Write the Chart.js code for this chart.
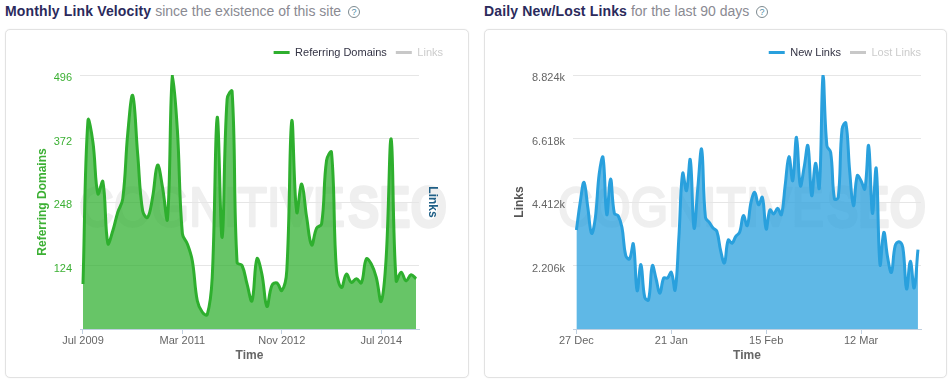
<!DOCTYPE html>
<html lang="en">
<head>
<meta charset="UTF-8">
<title>Link Velocity</title>
<script src="https://cdn.jsdelivr.net/npm/chart.js"></script>
<style>
    html, body { margin: 0; padding: 0; background: #fff; overflow: hidden; }
    body { width: 950px; height: 386px; position: relative; font-family: "Liberation Sans", Arial, sans-serif; }
    .heading { position: absolute; top: 3px; font-size: 14px; line-height: 17px; color: #8a8a92; white-space: nowrap; }
    .heading b { color: #2b2a5c; letter-spacing: 0.15px; }
    .help { display: inline-block; width: 10px; height: 10px; border: 1px solid #7d8a90; border-radius: 50%; font-size: 9px; line-height: 10px; text-align: center; color: #4f8da5; margin-left: 3px; vertical-align: 1px; }
    .card { position: absolute; top: 29px; height: 347px; border: 1px solid #e2e2e2; border-radius: 5px; box-shadow: 0 0 1px #ddd; }
    canvas { position: absolute; top: 0; }
</style>
</head>
<body>
    <div class="heading" style="left:5px"><b>Monthly Link Velocity</b> since the existence of this site <span class="help">?</span></div>
    <div class="heading" style="left:484px"><b>Daily New/Lost Links</b> for the last 90 days <span class="help">?</span></div>
    <div class="card" style="left:5px;width:462px"></div>
    <div class="card" style="left:484px;width:461px"></div>
    <div style="position:absolute;left:0;top:0;width:475px;height:386px"><canvas id="velocityChart"></canvas></div>
    <div style="position:absolute;left:475px;top:0;width:475px;height:386px"><canvas id="dailyChart"></canvas></div>

<script>
    // monthly chart
    var months = [
        'Jul 2009','Aug 2009','Sep 2009','Oct 2009','Nov 2009','Dec 2009',
        'Jan 2010','Feb 2010','Mar 2010','Apr 2010','May 2010','Jun 2010','Jul 2010','Aug 2010','Sep 2010','Oct 2010','Nov 2010','Dec 2010',
        'Jan 2011','Feb 2011','Mar 2011','Apr 2011','May 2011','Jun 2011','Jul 2011','Aug 2011','Sep 2011','Oct 2011','Nov 2011','Dec 2011',
        'Jan 2012','Feb 2012','Mar 2012','Apr 2012','May 2012','Jun 2012','Jul 2012','Aug 2012','Sep 2012','Oct 2012','Nov 2012','Dec 2012',
        'Jan 2013','Feb 2013','Mar 2013','Apr 2013','May 2013','Jun 2013','Jul 2013','Aug 2013','Sep 2013','Oct 2013','Nov 2013','Dec 2013',
        'Jan 2014','Feb 2014','Mar 2014','Apr 2014','May 2014','Jun 2014','Jul 2014','Aug 2014','Sep 2014','Oct 2014','Nov 2014','Dec 2014',
        'Jan 2015','Feb 2015'
    ];
    var referringDomains = [
        88,407,365,264,288,167,192,228,254,381,456,342,231,218,257,320,277,215,496,387,
        186,166,133,55,33,28,101,413,179,449,464,130,124,88,55,137,107,44,85,90,
        75,114,406,228,283,218,164,197,205,329,345,114,81,107,91,98,90,137,127,101,
        54,140,371,94,111,94,106,98
    ];
    var monthTicks = [0, 20, 40, 60];
    var domainTicks = [124, 248, 372, 496];

    // daily chart
    var days = [
        '27 Dec','28 Dec','29 Dec','30 Dec','31 Dec',
        '1 Jan','2 Jan','3 Jan','4 Jan','5 Jan','6 Jan','7 Jan','8 Jan','9 Jan','10 Jan','11 Jan','12 Jan','13 Jan','14 Jan','15 Jan','16 Jan','17 Jan','18 Jan','19 Jan','20 Jan','21 Jan','22 Jan','23 Jan','24 Jan','25 Jan','26 Jan','27 Jan','28 Jan','29 Jan','30 Jan','31 Jan',
        '1 Feb','2 Feb','3 Feb','4 Feb','5 Feb','6 Feb','7 Feb','8 Feb','9 Feb','10 Feb','11 Feb','12 Feb','13 Feb','14 Feb','15 Feb','16 Feb','17 Feb','18 Feb','19 Feb','20 Feb','21 Feb','22 Feb','23 Feb','24 Feb','25 Feb','26 Feb','27 Feb','28 Feb',
        '1 Mar','2 Mar','3 Mar','4 Mar','5 Mar','6 Mar','7 Mar','8 Mar','9 Mar','10 Mar','11 Mar','12 Mar','13 Mar','14 Mar','15 Mar','16 Mar','17 Mar','18 Mar','19 Mar','20 Mar','21 Mar','22 Mar','23 Mar','24 Mar','25 Mar','26 Mar','27 Mar'
    ];
    var newLinks = [
        3439,4400,5095,4227,3323,3879,5385,5964,3972,5211,4018,3937,3532,2548,2432,2953,1332,2235,1100,1007,
        2200,1737,1239,1772,1772,1969,1355,3185,5408,4806,5883,3509,4922,6242,3879,3706,3509,3393,2721,2293,
        3092,2976,3219,3358,3937,3590,4400,4748,4319,4574,3474,4134,3995,4192,3972,4979,5987,5153,6659,4979,
        5616,6369,4632,5755,4898,8824,6369,6137,4516,4574,6948,7156,5500,4285,5327,5153,4864,6369,4018,5582,
        2235,3358,2490,1969,2895,3034,2837,1390,2351,1424,2756
    ];
    var dayTicks = [0, 25, 50, 75];
    var linkTicks = [2206, 4412, 6618, 8824];

    function toPoints(values) {
        return values.map(function (v, i) { return { x: i, y: v }; });
    }

    // big grey logo behind everything else on the canvas
    var watermark = {
        id: 'watermark',
        beforeDraw: function (chart, args, opts) {
            var ctx = chart.ctx;
            ctx.save();
            ctx.fillStyle = '#efefef';
            ctx.strokeStyle = '#efefef';
            ctx.lineWidth = 2.5;
            ctx.lineJoin = 'round';
            ctx.textBaseline = 'alphabetic';
            ctx.textAlign = 'left';
            ctx.font = '56px "Liberation Sans"';
            ctx.fillText('COGNITIVE', opts.x + 1, 226, 266);
            ctx.strokeText('COGNITIVE', opts.x + 1, 226, 266);
            ctx.font = 'bold 57px "Liberation Sans"';
            ctx.fillText('SEO', opts.x + 270, 227, 99);
            ctx.strokeText('SEO', opts.x + 270, 227, 99);
            ctx.restore();
        }
    };

    // legend needs some air below it
    var legendGap = {
        id: 'legendGap',
        beforeInit: function (chart) {
            var fit = chart.legend.fit;
            chart.legend.fit = function () {
                fit.call(this);
                this.height += 7;
            };
        }
    };

    function makeChart(id, cfg) {
        return new Chart(document.getElementById(id), {
            type: 'line',
            data: {
                datasets: [
                    {
                        label: cfg.name,
                        data: toPoints(cfg.values),
                        borderColor: cfg.line,
                        backgroundColor: cfg.fill,
                        borderWidth: 3,
                        pointRadius: 0,
                        tension: 0.4,
                        fill: 'origin',
                        yAxisID: 'y'
                    },
                    { label: cfg.otherName, data: [], borderColor: '#c8c8c8', yAxisID: 'y1' }
                ]
            },
            plugins: [watermark, legendGap],
            options: {
                responsive: true,
                maintainAspectRatio: false,
                animation: false,
                layout: { padding: { top: 38, bottom: 23, left: cfg.padLeft, right: cfg.padRight } },
                plugins: {
                    watermark: { x: cfg.markX },
                    tooltip: { enabled: false },
                    legend: {
                        position: 'top',
                        align: 'end',
                        onClick: null,
                        labels: {
                            padding: 9,
                            boxWidth: 16,
                            boxHeight: 3,
                            font: { family: '"Liberation Sans"', size: 11 },
                            generateLabels: function (chart) {
                                return chart.data.datasets.map(function (d, i) {
                                    return {
                                        text: d.label,
                                        fillStyle: i === 0 ? cfg.line : '#c8c8c8',
                                        strokeStyle: i === 0 ? cfg.line : '#c8c8c8',
                                        lineWidth: 0,
                                        fontColor: i === 0 ? '#333344' : '#cccccc',
                                        datasetIndex: i
                                    };
                                });
                            }
                        }
                    }
                },
                scales: {
                    x: {
                        type: 'linear',
                        min: cfg.xMin,
                        max: cfg.xMax,
                        afterBuildTicks: function (scale) {
                            scale.ticks = cfg.xTicks.map(function (v) { return { value: v }; });
                        },
                        afterFit: function (scale) { scale.height = 34; },
                        grid: { display: true, drawOnChartArea: false, color: '#c0d0e0', tickLength: 5 },
                        border: { color: '#c0d0e0' },
                        ticks: {
                            autoSkip: false,
                            maxRotation: 0,
                            padding: 0,
                            color: '#666666',
                            font: { family: '"Liberation Sans"', size: 11 },
                            callback: function (v) { return cfg.labels[v]; }
                        },
                        title: {
                            display: true,
                            text: 'Time',
                            color: '#666666',
                            padding: 0,
                            font: { family: '"Liberation Sans"', size: 12, weight: 'bold' }
                        }
                    },
                    y: {
                        position: 'left',
                        min: 0,
                        max: cfg.yMax,
                        afterBuildTicks: function (scale) {
                            scale.ticks = cfg.yTicks.map(function (v) { return { value: v }; });
                        },
                        afterFit: function (scale) { scale.width = cfg.yWidth; },
                        grid: { color: '#e6e6e6', drawTicks: false },
                        border: { display: false },
                        ticks: {
                            padding: 8,
                            labelOffset: 3,
                            color: cfg.tickColor,
                            font: { family: '"Liberation Sans"', size: 11 },
                            callback: cfg.yFormat
                        },
                        title: {
                            display: true,
                            text: cfg.yTitle,
                            color: cfg.yTitleColor,
                            padding: 0,
                            font: { family: '"Liberation Sans"', size: 12, weight: 'bold' }
                        }
                    },
                    y1: {
                        position: 'right',
                        min: 0,
                        max: 1,
                        afterFit: function (scale) { scale.width = cfg.rightWidth; },
                        grid: { display: false },
                        border: { display: false },
                        ticks: { display: false },
                        title: {
                            display: cfg.rightTitle !== '',
                            text: cfg.rightTitle,
                            color: '#1f5f86',
                            padding: { top: 12, bottom: 0 },
                            font: { family: '"Liberation Sans"', size: 12, weight: 'bold' }
                        }
                    }
                }
            }
        });
    }

    makeChart('velocityChart', {
        name: 'Referring Domains', otherName: 'Links',
        values: referringDomains, labels: months, xTicks: monthTicks, yTicks: domainTicks,
        xMin: -0.6, xMax: 67.6, yMax: 496,
        line: '#2eaf2e', fill: 'rgba(46,175,46,0.73)',
        tickColor: '#3cb034', yTitle: 'Referring Domains', yTitleColor: '#3cb034',
        yFormat: function (v) { return v; },
        padLeft: 35, padRight: 23, yWidth: 45, rightWidth: 33, rightTitle: 'Links', markX: 78
    });

    makeChart('dailyChart', {
        name: 'New Links', otherName: 'Lost Links',
        values: newLinks, labels: days, xTicks: dayTicks, yTicks: linkTicks,
        xMin: -0.9, xMax: 90.8, yMax: 8824,
        line: '#29a0dd', fill: 'rgba(41,160,221,0.75)',
        tickColor: '#666666', yTitle: 'Links', yTitleColor: '#555555',
        yFormat: function (v) { return (v / 1000).toFixed(3) + 'k'; },
        padLeft: 37, padRight: 20, yWidth: 61, rightWidth: 9, rightTitle: '', markX: 82
    });
</script>
</body>
</html>
